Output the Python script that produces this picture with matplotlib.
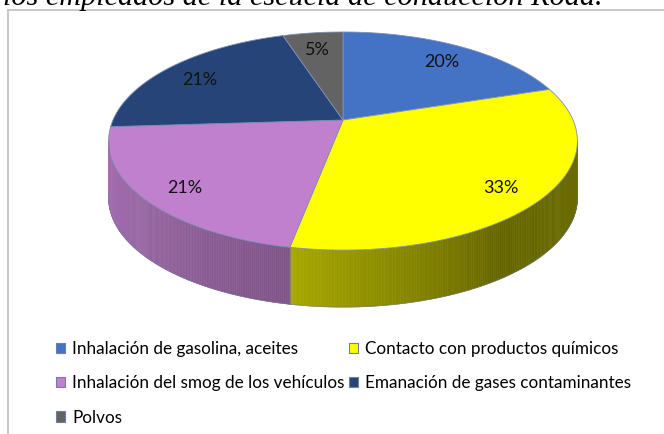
import numpy as np
import matplotlib
matplotlib.use("Agg")
import matplotlib.pyplot as plt
from matplotlib.patches import Polygon, Patch
from matplotlib.collections import PolyCollection
from matplotlib.lines import Line2D

# data
categories = [
    "Inhalación de gasolina, aceites",
    "Contacto con productos químicos",
    "Inhalación del smog de los vehículos",
    "Emanación de gases contaminantes",
    "Polvos",
]
values = [20, 33, 21, 21, 5]
colors = ["#4472C4", "#FFFF00", "#C080CE", "#264478", "#636363"]
title = "los empleados de la escuela de conducción Road."

# geometry of the tilted pie (pixel space)
CX, CY = 343, 120
RX, RY = 230, 105
K = 0.193      # perspective strength
H = 57         # thickness of the side wall


def proj(t, r=1.0, dz=0.0):
    u = r * np.cos(t)
    v = r * np.sin(t)
    d = 1 + K * v
    return CX + RX * u / d, CY - RY * v / d + dz


def shade(t):
    # darker toward the right side of the front wall
    deg = np.degrees(t)
    return np.interp(deg, [-169, -101, -55, -11], [0.88, 0.66, 0.40, 0.42])


fig = plt.figure(figsize=(6.64, 4.34), dpi=100)
ax = fig.add_axes([0, 0, 1, 1])
ax.set_xlim(0, 664)
ax.set_ylim(434, 0)
ax.axis("off")

fracs = np.array(values, dtype=float) / sum(values)
bounds = np.pi / 2 - 2 * np.pi * np.concatenate([[0], np.cumsum(fracs)])
t_left = -np.pi + np.arcsin(K)
t_right = -np.arcsin(K)

# front side walls
for i, c in enumerate(colors):
    a0, a1 = bounds[i], bounds[i + 1]   # a0 > a1 (clockwise)
    lo, hi = a1, a0
    while hi > np.pi:
        lo -= 2 * np.pi
        hi -= 2 * np.pi
    lo2, hi2 = max(lo, t_left), min(hi, t_right)
    if lo2 >= hi2:
        continue
    ts = np.linspace(lo2, hi2, 160)
    rgb = np.array(matplotlib.colors.to_rgb(c))
    quads, fcs = [], []
    for ta, tb in zip(ts[:-1], ts[1:]):
        xa, ya = proj(ta)
        xb, yb = proj(tb)
        quads.append([(xa, ya), (xb, yb), (xb, yb + H), (xa, ya + H)])
        fcs.append(np.clip(rgb * shade((ta + tb) / 2), 0, 1))
    ax.add_collection(PolyCollection(quads, facecolors=fcs, edgecolors=fcs, linewidths=0.4))
    bx, by = proj(ts, dz=H)
    ax.plot(bx, by, color="#6a7a9a", lw=0.6, alpha=0.6)
    for te in (lo2, hi2):
        x0, y0 = proj(te)
        ax.plot([x0, x0], [y0, y0 + H], color="#6a7a9a", lw=0.5, alpha=0.5)

# top faces
for i, c in enumerate(colors):
    ts = np.linspace(bounds[i], bounds[i + 1], 200)
    xs, ys = proj(ts)
    pts = [(CX, CY)] + list(zip(xs, ys))
    ax.add_patch(Polygon(pts, closed=True, facecolor=c, edgecolor="#7d8fb5",
                         lw=0.6))

# percentage labels
for i, v in enumerate(values):
    mid = (bounds[i] + bounds[i + 1]) / 2
    lx, ly = proj(mid, r=0.82, dz=4)
    ax.text(lx, ly, f"{v}%", ha="center", va="center", fontsize=13,
            family="Lato", color="#111111")

# chart frame
fig.add_artist(Line2D([8 / 664, 8 / 664], [0, 1 - 10 / 434], color="#c4c4c4", lw=1.3))
fig.add_artist(Line2D([8 / 664, 1], [1 - 10 / 434, 1 - 10 / 434], color="#c4c4c4", lw=1.3))

# cut-off caption above the chart
fig.text(3 / 664, 1 - 5 / 434, title, family="Liberation Serif", style="italic",
         fontsize=21.8, va="baseline", ha="left", color="black")

# legend, row-major order
order = [0, 2, 4, 1, 3]
handles = [Patch(facecolor=colors[i], edgecolor="#6f7f9f", lw=0.8) for i in order]
labels = [categories[i] for i in order]
fig.legend(handles, labels, ncol=2, loc="upper left",
           bbox_to_anchor=(56 / 664, 1 - 341 / 434), frameon=False,
           prop={"family": "Lato", "size": 12.3}, handlelength=0.55,
           handleheight=0.55, handletextpad=0.4, columnspacing=0.25,
           labelspacing=1.07, borderpad=0, borderaxespad=0)

fig.savefig("out.png", dpi=100)
